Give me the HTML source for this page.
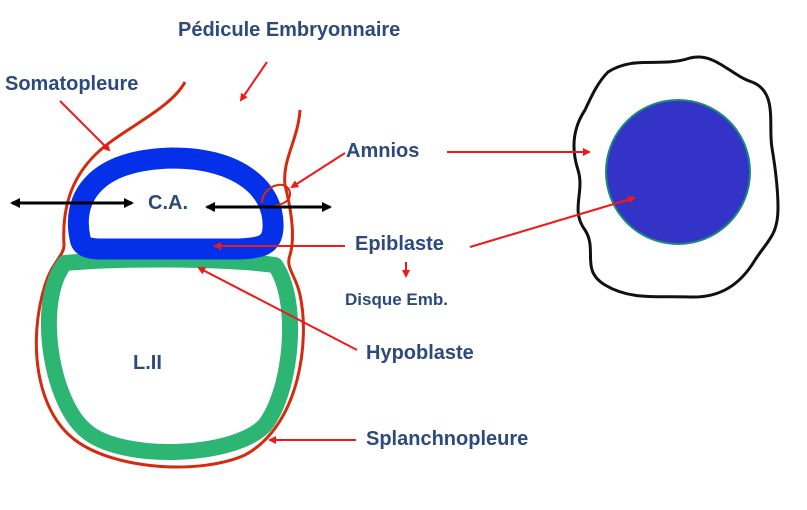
<!DOCTYPE html>
<html><head><meta charset="utf-8"><style>
html,body{margin:0;padding:0;background:#fff;width:807px;height:510px;overflow:hidden}
text{font-family:"Liberation Sans",sans-serif;font-weight:bold;fill:#2c4a7c}
</style></head><body>
<svg width="807" height="510" viewBox="0 0 807 510" xmlns="http://www.w3.org/2000/svg">
<defs>
<marker id="ar" markerWidth="8" markerHeight="8" refX="6" refY="4" orient="auto" markerUnits="userSpaceOnUse"><path d="M0,0 L8,4 L0,8 Z" fill="#f01818"/></marker>
<marker id="bk" markerWidth="10" markerHeight="10" refX="8" refY="5" orient="auto-start-reverse" markerUnits="userSpaceOnUse"><path d="M0,0 L10,5 L0,10 Z" fill="#000"/></marker>
</defs>
<!-- red outline -->
<path d="M185,82 C170,110 120,130 95,155 C70,180 62,210 64,245 C64,256 52,262 45,285 C28,340 35,410 75,440 C115,470 200,475 245,455 C300,425 310,340 300,295 C296,275 285,268 290,255 C296,235 290,205 285,185 C282,160 298,140 300,110" fill="none" stroke="#d42a10" stroke-width="3"/>
<!-- green ring -->
<path d="M65,263 C120,258 220,258 275,265 C300,300 292,390 265,425 C235,458 120,462 85,430 C50,400 35,300 65,263 Z" fill="none" stroke="#2db673" stroke-width="16" stroke-linejoin="round"/>
<!-- blue amnion -->
<path d="M80,238 C72,200 92,160 172,158 C240,158 275,190 273,228 C272,245 262,248 240,249 L100,249 C86,249 81,245 80,238 Z" fill="none" stroke="#0530ea" stroke-width="21" stroke-linejoin="round"/>
<path d="M262,203 C262,185 288,178 290,193 C291,203 278,206 266,207" fill="none" stroke="#d42a10" stroke-width="2"/>
<!-- right circle -->
<path d="M608,72 C635,55 660,68 690,58 C715,52 730,75 752,82 C778,92 768,125 772,148 C776,172 778,190 778,208 C778,235 768,240 755,260 C740,285 720,298 690,297 C655,296 630,300 605,285 C580,270 598,250 585,230 C570,210 585,192 578,170 C570,145 575,125 585,110 C592,95 598,82 608,72 Z" fill="none" stroke="#111" stroke-width="3"/>
<circle cx="678" cy="172" r="72" fill="#3333c8" stroke="#1a8a7a" stroke-width="2"/>
<!-- black double arrows -->
<line x1="12" y1="203" x2="132" y2="203" stroke="#000" stroke-width="3" marker-start="url(#bk)" marker-end="url(#bk)"/>
<line x1="207" y1="207" x2="330" y2="207" stroke="#000" stroke-width="3" marker-start="url(#bk)" marker-end="url(#bk)"/>
<!-- red pointers -->
<g stroke="#f01818" stroke-width="2" fill="none" marker-end="url(#ar)">
<line x1="267" y1="62" x2="241" y2="100"/>
<line x1="60" y1="101" x2="109" y2="150"/>
<line x1="345" y1="153" x2="292" y2="187"/>
<line x1="447" y1="152" x2="589" y2="152"/>
<line x1="345" y1="246" x2="215" y2="246"/>
<line x1="470" y1="247" x2="634" y2="198"/>
<line x1="406" y1="262" x2="406" y2="276"/>
<line x1="357" y1="350" x2="199" y2="268"/>
<line x1="356" y1="440" x2="270" y2="440"/>
</g>
<text x="178" y="36" font-size="20">Pédicule Embryonnaire</text>
<text x="5" y="90" font-size="20">Somatopleure</text>
<text x="346" y="157" font-size="20">Amnios</text>
<text x="355" y="250" font-size="20">Epiblaste</text>
<text x="345" y="305" font-size="17">Disque Emb.</text>
<text x="366" y="359" font-size="20">Hypoblaste</text>
<text x="366" y="445" font-size="20">Splanchnopleure</text>
<text x="148" y="209" font-size="20">C.A.</text>
<text x="133" y="369" font-size="20">L.II</text>
</svg>
</body></html>
